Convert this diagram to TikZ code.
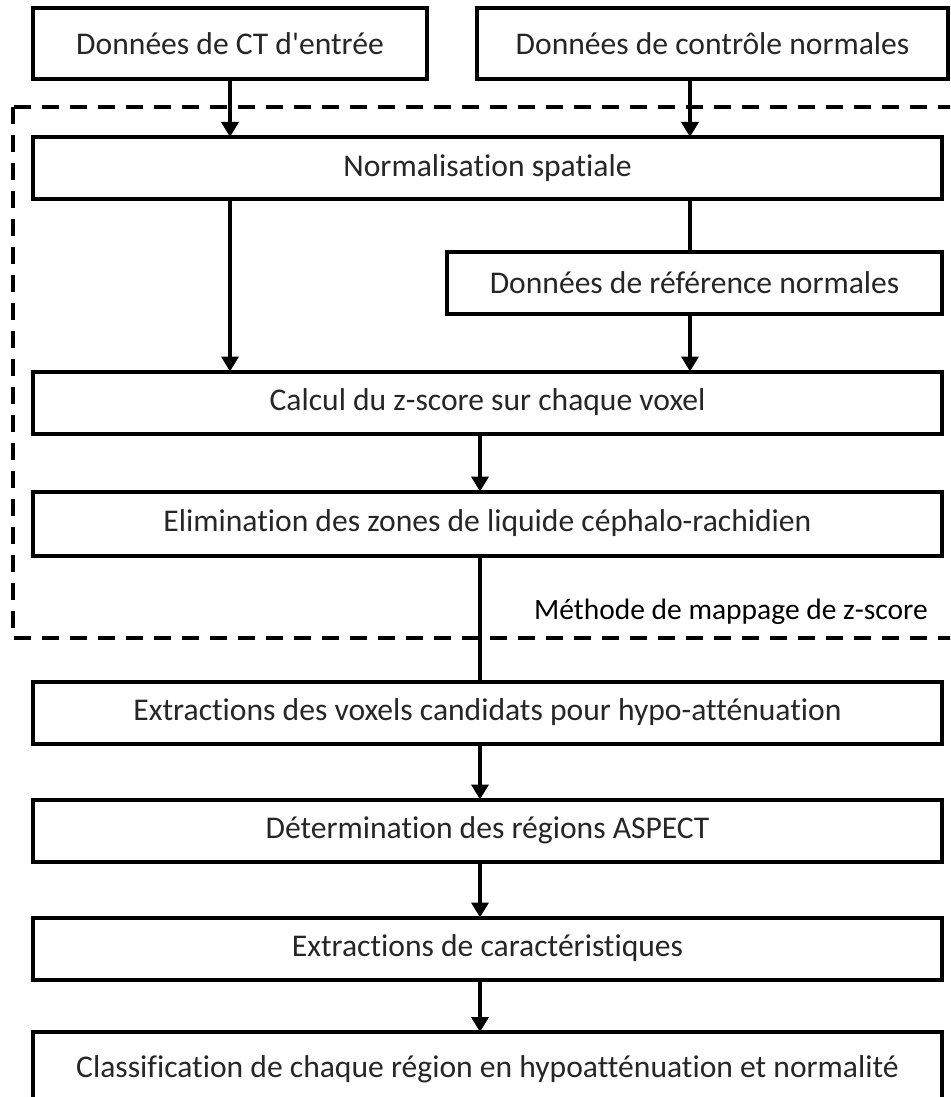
\documentclass[tikz,border=0pt]{standalone}
\usepackage{fontspec}
\setmainfont{Carlito}[Ligatures={NoCommon}]
\usetikzlibrary{arrows.meta}
\tikzset{
  x=1pt, y=-1pt,
  box/.style={draw=black, line width=4pt, fill=white, inner sep=0pt, outer sep=0pt,
    text=black!85, font=\fontsize{31.6}{38}\selectfont, minimum height=62pt},
  conn/.style={draw=black, line width=3.6pt},
  arr/.style={conn, -{Triangle[width=17pt,length=15pt]}},
  frame/.style={draw=black, line width=4pt, dash pattern=on 17pt off 11pt},
  lbl/.style={text=black, font=\fontsize{29.5}{36}\selectfont, inner sep=0pt}
}
\begin{document}
\begin{tikzpicture}
\useasboundingbox (0,0) rectangle (950,1097);
\clip (0,0) rectangle (950,1097);
\draw[frame] (13,107) rectangle (975,638);
\node[lbl, anchor=east] (lab) at (928,612) {Méthode de mappage de z-score};
\node[box, minimum width=394pt, minimum height=71pt] (in1) at (230,43.5) {Données de CT d\textquotesingle entrée};
\node[box, minimum width=471pt, minimum height=71pt] (in2) at (712.5,43.5) {Données de contrôle normales};
\node[box, minimum width=909pt] (norm) at (487.5,168) {Normalisation spatiale};
\node[box, minimum width=495pt] (ref) at (694.5,283) {Données de référence normales};
\node[box, minimum width=909pt] (calc) at (487.5,402.5) {Calcul du z-score sur chaque voxel};
\node[box, minimum width=909pt, minimum height=64pt] (elim) at (487.5,523.5) {Elimination des zones de liquide céphalo-rachidien};
\node[box, minimum width=909pt] (extr) at (487.5,712.5) {Extractions des voxels candidats pour hypo-atténuation};
\node[box, minimum width=909pt] (det) at (487.5,830.5) {Détermination des régions ASPECT};
\node[box, minimum width=909pt] (car) at (487.5,948.5) {Extractions de caractéristiques};
\node[box, minimum width=909pt, minimum height=74pt] (cls) at (487.5,1069) {Classification de chaque région en hypoatténuation et normalité};
\coordinate (cx) at (480,0);
\coordinate (rx) at (690,0);
\draw[arr] (in1.south) -- (in1.south |- norm.north);
\draw[arr] (in2.south -| rx) -- (norm.north -| rx);
\draw[arr] (norm.south -| in1.south) -- (calc.north -| in1.south);
\draw[conn] (norm.south -| rx) -- (ref.north -| rx);
\draw[arr] (ref.south -| rx) -- (calc.north -| rx);
\draw[arr] (calc.south -| cx) -- (elim.north -| cx);
\draw[conn] (elim.south -| cx) -- (extr.north -| cx);
\draw[arr] (extr.south -| cx) -- (det.north -| cx);
\draw[arr] (det.south -| cx) -- (car.north -| cx);
\draw[arr] (car.south -| cx) -- (cls.north -| cx);
\end{tikzpicture}
\end{document}
